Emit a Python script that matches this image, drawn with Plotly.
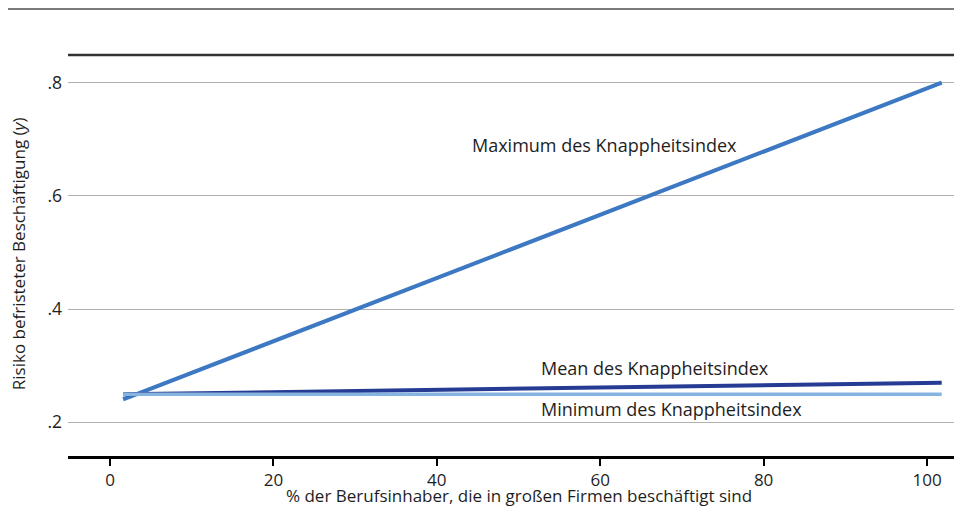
import plotly.graph_objects as go

# Data
x_vals = [1.6, 101.8]
max_vals = [0.2405, 0.800]
mean_vals = [0.2495, 0.270]
min_vals = [0.2495, 0.2495]

y_ticks = [0.2, 0.4, 0.6, 0.8]
y_ticklabels = [".2", ".4", ".6", ".8"]
x_ticks = [0, 20, 40, 60, 80, 100]

labels = ["Maximum des Knappheitsindex", "Mean des Knappheitsindex", "Minimum des Knappheitsindex"]
label_x = [60.5, 66.7, 68.7]
label_y = [0.690, 0.296, 0.2235]

x_title = "% der Berufsinhaber, die in großen Firmen beschäftigt sind"
y_title = "Risiko befristeter Beschäftigung (<i>y</i>)"

FONT = "Open Sans"
TXT = "#1e1e1e"

fig = go.Figure()
fig.add_trace(go.Scatter(x=x_vals, y=max_vals, mode="lines",
                         line=dict(color="#3d78c3", width=4), name="Maximum"))
fig.add_trace(go.Scatter(x=x_vals, y=mean_vals, mode="lines",
                         line=dict(color="#263c94", width=4), name="Mean"))
fig.add_trace(go.Scatter(x=x_vals, y=min_vals, mode="lines",
                         line=dict(color="#86b4e0", width=3.5), name="Minimum"))

for t, lx, ly in zip(labels, label_x, label_y):
    fig.add_annotation(x=lx, y=ly, xref="x", yref="y", text=t, showarrow=False,
                       xanchor="center", yanchor="middle",
                       font=dict(family=FONT, size=18, color=TXT))

# axis titles
fig.add_annotation(x=0.5, y=0, xref="paper", yref="paper", text=x_title,
                   showarrow=False, xanchor="center", yanchor="middle", yshift=-39,
                   font=dict(family=FONT, size=17, color=TXT))
fig.add_annotation(x=0, y=0.497, xref="paper", yref="y", text=y_title,
                   showarrow=False, xanchor="center", yanchor="middle", xshift=-50,
                   textangle=-90, font=dict(family=FONT, size=17, color=TXT))

fig.update_layout(
    width=962, height=519,
    margin=dict(l=60, r=0, t=47, b=71),
    paper_bgcolor="white", plot_bgcolor="white",
    showlegend=False,
    font=dict(family=FONT, size=17, color=TXT),
    xaxis=dict(range=[-5.14, 105.26], tickvals=x_ticks, showgrid=False, zeroline=False,
               showline=True, linecolor="black", linewidth=2.5,
               ticks="outside", ticklen=7, tickwidth=2, tickcolor="black",
               ticklabelstandoff=0, tickfont=dict(size=17, color=TXT)),
    yaxis=dict(range=[0.1405, 0.849], tickvals=y_ticks, ticktext=y_ticklabels,
               showgrid=True, gridcolor="#b0b0b0", gridwidth=1, zeroline=False,
               showline=False, ticks="", ticklabelstandoff=5,
               tickfont=dict(size=17.5, color=TXT)),
    shapes=[
        dict(type="line", xref="paper", yref="paper", x0=0, x1=1, y0=1, y1=1,
             line=dict(color="#333333", width=2.5)),
        dict(type="line", xref="paper", yref="paper", x0=-0.0665, x1=1, y0=1.1147, y1=1.1147,
             line=dict(color="#7a7a7a", width=2)),
    ],
)

fig.write_html("out.html")
